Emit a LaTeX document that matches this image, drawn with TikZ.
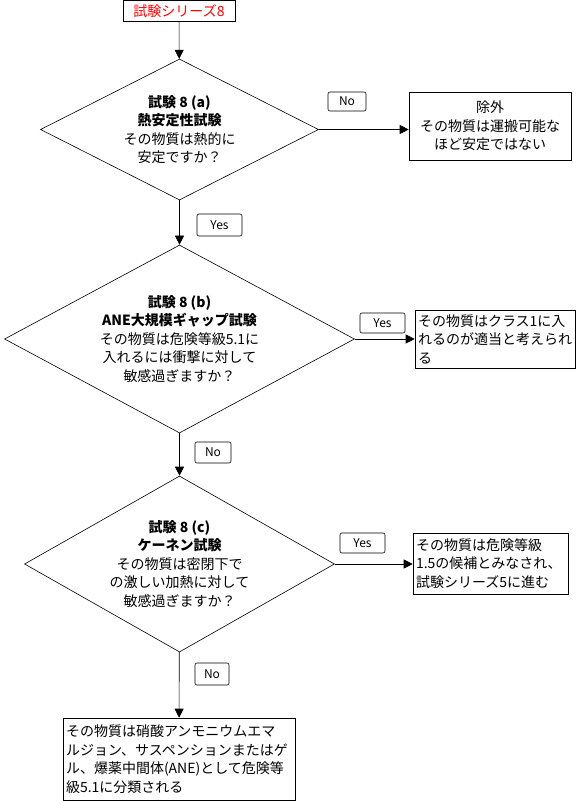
\documentclass[tikz,border=0pt]{standalone}
\usepackage{fontspec}
\setmainfont{Noto Sans CJK JP}
\usetikzlibrary{arrows.meta,positioning,shapes.geometric}

\begin{document}
\begin{tikzpicture}[x=1pt,y=-1pt,line width=0.6pt,
  >={Triangle[length=9pt,width=9pt]},
  txt/.style={font=\fontsize{14}{18.5}\selectfont},
  decision/.style={draw,diamond,inner sep=0pt,align=center,txt},
  outbox/.style={draw,rectangle,inner sep=3pt,txt},
  lbl/.style={draw,rounded corners=2pt,inner sep=0pt,font=\fontsize{12}{14}\selectfont}]
  \useasboundingbox (0,0) rectangle (576,801);
  \node[draw,minimum width=112pt,minimum height=21pt,inner sep=0pt,text=red,txt] (series) at (179,11) {試験シリーズ8};
  \node[decision,minimum width=278pt,minimum height=141pt,aspect=1.97] (t8a) at (179.5,129.5)
    {\textbf{試験 8 (a)}\\\textbf{熱安定性試験}\\その物質は熱的に\\安定ですか？};
  \node[decision,minimum width=350pt,minimum height=188pt,aspect=1.86] (t8b) at (179.5,339)
    {\textbf{試験 8 (b)}\\\textbf{ANE大規模ギャップ試験}\\その物質は危険等級5.1に\\入れるには衝撃に対して\\敏感過ぎますか？};
  \node[decision,minimum width=310pt,minimum height=176pt,aspect=1.76] (t8c) at (179.5,564)
    {\textbf{試験 8 (c)}\\\textbf{ケーネン試験}\\その物質は密閉下で\\の激しい加熱に対して\\敏感過ぎますか？};
  \node[outbox,minimum width=162pt,minimum height=68pt,align=center] (excl) at (490,126)
    {除外\\その物質は運搬可能な\\ほど安定ではない};
  \node[outbox,minimum width=160pt,minimum height=58pt,text width=154pt,align=left] (cls1) at (495,339)
    {その物質はクラス1に入\\れるのが適当と考えられ\\る};
  \node[outbox,minimum width=155pt,minimum height=61pt,text width=149pt,align=left] (div15) at (490.5,563.5)
    {その物質は危険等級\\1.5の候補とみなされ、\\試験シリーズ5に進む};
  \node[outbox,minimum width=232pt,minimum height=82pt,text width=226pt,align=left] (ane) at (179,759)
    {その物質は硝酸アンモニウムエマ\\ルジョン、サスペンションまたはゲ\\ル、爆薬中間体(ANE)として危険等\\級5.1に分類される};
  \node[lbl,minimum width=38pt,minimum height=19pt] (no1) at (347,101.5) {No};
  \node[lbl,minimum width=45pt,minimum height=22pt] (yes1) at (219.5,225) {Yes};
  \node[lbl,minimum width=45pt,minimum height=20pt] (yes2) at (382.5,323) {Yes};
  \node[lbl,minimum width=36pt,minimum height=21pt] (no2) at (213,452.5) {No};
  \node[lbl,minimum width=45pt,minimum height=20pt] (yes3) at (362.5,543) {Yes};
  \node[lbl,minimum width=34pt,minimum height=22pt] (no3) at (212,674) {No};
  \draw[->] (series) -- (t8a);
  \draw[->] (t8a) -- (t8b);
  \draw[->] (t8b) -- (t8c);
  \draw[->] (t8c) -- (ane);
  \draw[->] (t8a.east) -- (t8a.east -| excl.west);
  \draw[->] (t8b.east) -- (t8b.east -| cls1.west);
  \draw[->] (t8c.east) -- (t8c.east -| div15.west);
\end{tikzpicture}
\end{document}
